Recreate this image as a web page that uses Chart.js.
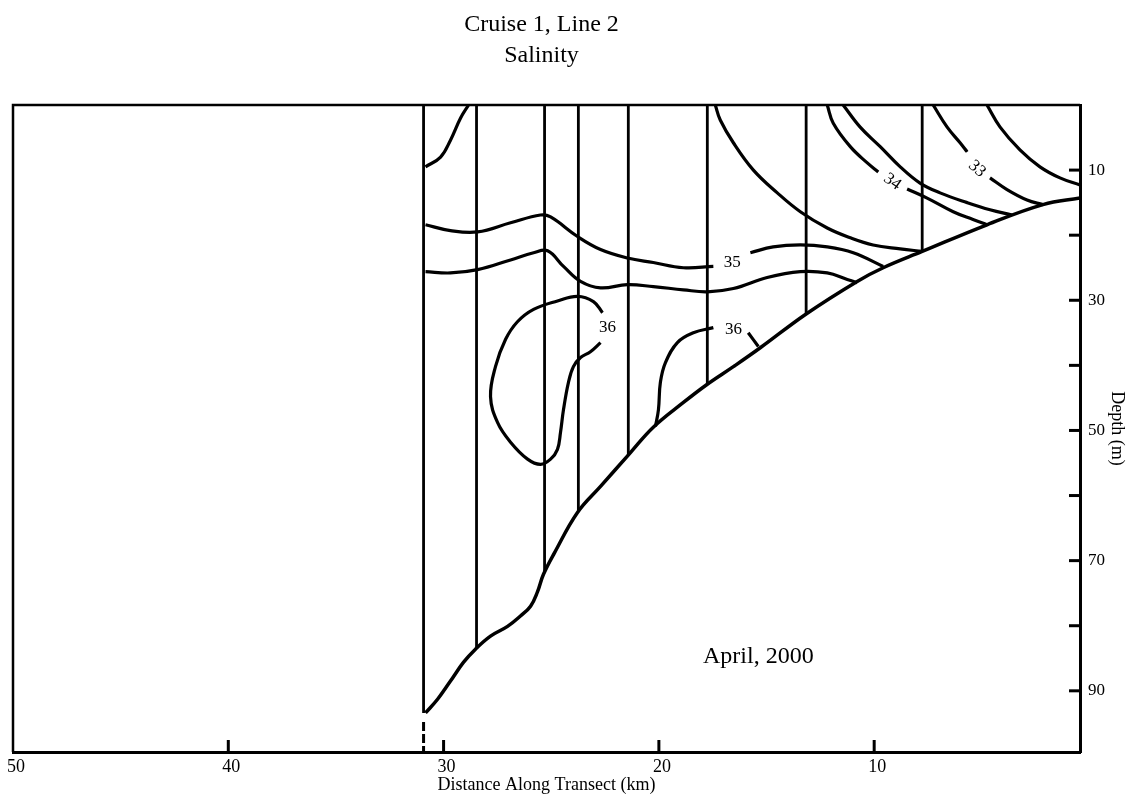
<!DOCTYPE html>
<html>
<head>
<meta charset="utf-8">
<script src="https://cdn.jsdelivr.net/npm/chart.js@4"></script>
<style>
  html, body { margin: 0; padding: 0; background: #fff; }
  #wrap { width: 1131px; height: 797px; }
</style>
</head>
<body>
<div id="wrap"><canvas id="salinity_chart" width="1131" height="797"></canvas></div>
<script>
// titles
const titleLines = ['Cruise 1, Line 2', 'Salinity'];
const dateLabel = 'April, 2000';

// axis ticks
const xTickLabels = [50, 40, 30, 20, 10];
const xTickMarks = [40, 30, 20, 10];
const yTickLabels = [10, 30, 50, 70, 90];
const yTickMarks = [10, 20, 30, 40, 50, 60, 70, 80, 90];

// CTD stations (km) and the depth where each hits the bottom (m)
const stationKm = [30.93, 28.47, 25.31, 23.74, 21.42, 17.75, 13.16, 7.77];
const stationBottom = [93.4, 83.5, 71.7, 62.4, 53.8, 42.9, 32.1, 22.5];
const stationDashed = [[30.93, 94.8], [30.93, 99.4]];

// bottom profile [km, depth]
const bottomProfile = [
  [30.84, 93.4], [30.28, 91.3], [29.68, 88.5], [29.07, 85.6], [28.52, 83.6],
  [27.82, 81.6], [27.03, 80.1], [26.43, 78.5], [25.96, 77.0], [25.64, 74.8],
  [25.36, 72.1], [24.85, 68.8], [23.78, 62.6], [22.71, 58.6], [21.32, 53.4],
  [20.26, 49.5], [18.86, 45.7], [17.75, 42.9], [16.54, 40.2], [15.29, 37.3],
  [13.16, 32.1], [10.79, 27.1], [9.58, 25.0], [7.77, 22.5], [4.76, 18.4],
  [2.16, 15.3], [0.44, 14.3]
];

// salinity contours [km, depth], null = gap for label
const contourTopLeft = [[30.84, 9.5], [30.14, 8.0], [29.68, 5.4], [29.21, 2.0], [28.84, 0]];
const contour35 = [
  [30.84, 18.4], [29.68, 19.3], [28.42, 19.5], [26.89, 18.1], [25.50, 16.9],
  [25.03, 17.2], [23.78, 20.2], [22.71, 22.2], [21.46, 23.5], [20.26, 24.2],
  [18.86, 25.0], [17.47, 24.8], null,
  [15.75, 22.7], [14.69, 21.8], [13.43, 21.5], [12.18, 21.8], [10.97, 22.7], [9.58, 24.8]
];
const contour35b = [
  [30.84, 25.6], [29.68, 25.8], [28.42, 25.3], [26.89, 23.8], [25.82, 22.7],
  [25.17, 22.4], [24.43, 24.8], [23.64, 27.1], [22.71, 28.1], [21.46, 27.6],
  [20.26, 27.9], [18.86, 28.4], [17.75, 28.7], [16.54, 28.2], [14.97, 26.5],
  [13.43, 25.6], [12.18, 25.8], [11.25, 26.8], [10.79, 27.3]
];
const contour36Loop = [
  [22.62, 31.9], [23.04, 30.2], [23.78, 29.4], [24.71, 30.1], [25.82, 31.4],
  [26.57, 33.3], [27.12, 36.0], [27.59, 40.2], [27.82, 44.8], [27.49, 48.8],
  [26.89, 51.8], [26.10, 54.4], [25.50, 55.2], [25.03, 54.4], [24.71, 52.9],
  [24.57, 50.3], [24.43, 46.8], [24.20, 42.6], [23.97, 40.2], [23.64, 38.8],
  [23.18, 37.9], [22.71, 36.5]
];
const contour36Shelf = [
  [20.16, 49.4], [20.02, 46.8], [19.93, 42.6], [19.70, 39.6], [19.14, 36.5],
  [18.40, 35.0], [17.47, 34.2], null, [15.85, 35.0], [15.38, 37.1]
];
const contourMid = [
  [17.38, 0], [17.15, 2.3], [16.54, 5.8], [15.61, 10.0], [14.50, 13.5],
  [13.43, 16.4], [12.18, 18.9], [11.11, 20.4], [10.05, 21.5], [8.79, 22.1], [7.77, 22.5]
];
const contour34 = [
  [12.18, 0], [11.90, 2.8], [11.11, 6.4], [10.32, 8.9], [9.81, 10.3], null,
  [8.47, 12.9], [7.54, 14.3], [6.33, 16.4], [5.41, 17.6], [4.76, 18.4]
];
const contour34b = [
  [11.44, 0], [10.65, 3.4], [9.72, 6.4], [8.79, 9.5], [7.87, 12.0],
  [6.94, 13.5], [5.68, 15.0], [4.62, 16.1], [3.60, 16.9]
];
const contour33 = [
  [7.26, 0], [6.61, 3.4], [6.01, 5.8], [5.68, 7.2], null,
  [4.62, 11.2], [3.83, 13.0], [2.90, 14.6], [2.16, 15.3]
];
const contourRight = [[4.76, 0], [4.15, 3.4], [3.23, 6.9], [2.30, 9.5], [1.37, 11.2], [0.44, 12.3]];

// contour labels [text, km, depth, angle in degrees]
const contourLabels = [
  ['35', 16.59, 24.2, 0],
  ['36', 22.39, 34.2, 0],
  ['36', 16.54, 34.5, 0],
  ['34', 9.16, 11.8, 35],
  ['33', 5.22, 9.8, 42]
];

const serif = '"Liberation Serif", "Times New Roman", serif';

// split a contour at null entries into separate line pieces
function pieces(arr) {
  const out = [];
  let cur = [];
  arr.forEach(p => {
    if (p === null) {
      if (cur.length) out.push(cur);
      cur = [];
    } else {
      cur.push({ x: p[0], y: p[1] });
    }
  });
  if (cur.length) out.push(cur);
  return out;
}

function lineSet(points, width, extra) {
  return Object.assign({
    data: points,
    borderColor: '#000',
    borderWidth: width,
    pointRadius: 0,
    tension: 0.4,
    fill: false
  }, extra || {});
}

const datasets = [];

stationKm.forEach((km, i) => {
  datasets.push(lineSet([{ x: km, y: 0 }, { x: km, y: stationBottom[i] }], 2.8, { tension: 0 }));
});
datasets.push(lineSet(stationDashed.map(p => ({ x: p[0], y: p[1] })), 3, { tension: 0, borderDash: [9, 3] }));

datasets.push(lineSet(pieces(bottomProfile)[0], 3.5));

[contourTopLeft, contour35, contour35b, contour36Loop, contour36Shelf,
 contourMid, contour34, contour34b, contour33, contourRight].forEach(c => {
  pieces(c).forEach(seg => datasets.push(lineSet(seg, 3.2)));
});

// frame, inward ticks and text
const sectionDecor = {
  id: 'sectionDecor',
  afterDraw(chart) {
    const ctx = chart.ctx;
    const area = chart.chartArea;
    const xs = chart.scales.x;
    const ys = chart.scales.y;
    ctx.save();
    ctx.strokeStyle = '#000';
    ctx.lineWidth = 2.5;
    ctx.beginPath();
    ctx.moveTo(area.left, area.bottom);
    ctx.lineTo(area.left, area.top);
    ctx.lineTo(area.right, area.top);
    ctx.stroke();

    ctx.lineWidth = 3;
    xTickMarks.forEach(v => {
      const px = xs.getPixelForValue(v);
      ctx.beginPath();
      ctx.moveTo(px, area.bottom);
      ctx.lineTo(px, area.bottom - 12);
      ctx.stroke();
    });
    yTickMarks.forEach(v => {
      const py = ys.getPixelForValue(v);
      ctx.beginPath();
      ctx.moveTo(area.right, py);
      ctx.lineTo(area.right - 11, py);
      ctx.stroke();
    });

    ctx.fillStyle = '#000';
    ctx.textAlign = 'center';
    ctx.textBaseline = 'middle';
    ctx.font = '17px ' + serif;
    contourLabels.forEach(l => {
      ctx.save();
      ctx.translate(xs.getPixelForValue(l[1]), ys.getPixelForValue(l[2]));
      ctx.rotate(l[3] * Math.PI / 180);
      ctx.fillText(l[0], 0, 0);
      ctx.restore();
    });

    ctx.font = '24px ' + serif;
    ctx.fillText(dateLabel, xs.getPixelForValue(15.38), ys.getPixelForValue(84.7));

    // title, centred a little left of the plot centre like the original
    const tx = (area.left + area.right) / 2 - 5;
    titleLines.forEach((t, i) => ctx.fillText(t, tx, 25 + i * 31));
    ctx.restore();
  }
};

new Chart(document.getElementById('salinity_chart'), {
  type: 'line',
  data: { datasets: datasets },
  options: {
    responsive: false,
    animation: false,
    events: [],
    layout: { padding: { left: 12, top: 105 } },
    plugins: {
      legend: { display: false },
      tooltip: { enabled: false },
      title: { display: false }
    },
    scales: {
      x: {
        type: 'linear',
        position: 'bottom',
        reverse: true,
        min: 0.44,
        max: 50,
        afterBuildTicks: s => { s.ticks = xTickLabels.map(v => ({ value: v })); },
        afterFit: s => { s.height = 45; },
        grid: { display: false, drawTicks: false },
        border: { display: true, color: '#000', width: 3 },
        ticks: { color: '#000', font: { family: serif, size: 18 }, padding: 4, maxRotation: 0, labelOffset: 3 },
        title: {
          display: true,
          text: 'Distance Along Transect (km)',
          color: '#000',
          font: { family: serif, size: 18 },
          padding: { top: 0, bottom: 1 }
        }
      },
      y: {
        type: 'linear',
        position: 'right',
        reverse: true,
        min: 0,
        max: 99.4,
        afterBuildTicks: s => { s.ticks = yTickLabels.map(v => ({ value: v })); },
        afterFit: s => { s.width = 51; },
        grid: { display: false, drawTicks: false },
        border: { display: true, color: '#000', width: 3 },
        ticks: { color: '#000', font: { family: serif, size: 17 }, padding: 8 },
        title: {
          display: true,
          text: 'Depth (m)',
          color: '#000',
          font: { family: serif, size: 18 },
          padding: { top: 3, bottom: 0 }
        }
      }
    }
  },
  plugins: [sectionDecor]
});
</script>
</body>
</html>
